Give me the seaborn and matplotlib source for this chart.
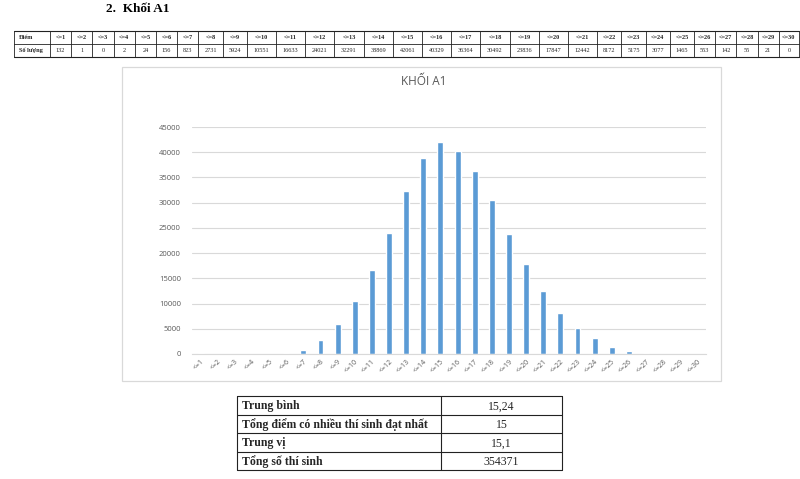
import matplotlib
matplotlib.use("Agg")
import matplotlib.pyplot as plt
import seaborn as sns
import pandas as pd

# ---- data ----
categories = [f"<={i}" for i in range(1, 31)]
counts = [132, 1, 0, 2, 24, 156, 823, 2731, 5924, 10551, 16633, 24021, 32291,
          38869, 42061, 40329, 36364, 30492, 23836, 17847, 12442, 8172, 5175,
          3077, 1465, 553, 142, 55, 21, 0]
y_ticks = [0, 5000, 10000, 15000, 20000, 25000, 30000, 35000, 40000, 45000]
heading = "2.  Khối A1"
chart_title = "KHỐI A1"
row_labels = ["Điểm", "Số lượng"]
summary_labels = ["Trung bình", "Tổng điểm có nhiều thí sinh đạt nhất", "Trung vị", "Tổng số thí sinh"]
summary_values = ["15,24", "15", "15,1", "354371"]

sns.set_theme(style="white")
plt.rcParams['font.family'] = ['DejaVu Sans']

W, H = 800, 479
fig = plt.figure(figsize=(W / 100, H / 100), dpi=100)
fig.patch.set_facecolor("white")

# overlay in pixel coordinates
ov = fig.add_axes([0, 0, 1, 1])
ov.set_xlim(0, W)
ov.set_ylim(H, 0)
ov.axis("off")

serif = "Liberation Serif"
lc = "#222222"

# heading
ov.text(106, 9, heading, fontsize=9.5, fontweight="bold", family=serif,
        ha="left", va="center", color="black")

# ---- top table ----
def col_width(v):
    d = len(str(v))
    if d >= 5:
        return 29.2
    if d == 4:
        return 24.2
    return 21.2

t_top, t_mid, t_bot = 31, 44, 57
xs = [14, 50]
for v in counts:
    xs.append(xs[-1] + col_width(v))
xs[-1] = min(xs[-1], 799)
ov.plot([xs[0], xs[-1]], [t_top, t_top], color=lc, lw=0.8)
ov.plot([xs[0], xs[-1]], [t_mid, t_mid], color=lc, lw=0.6)
ov.plot([xs[0], xs[-1]], [t_bot, t_bot], color=lc, lw=0.8)
for x in xs:
    ov.plot([x, x], [t_top, t_bot], color=lc, lw=0.6)
ov.text(19, (t_top + t_mid) / 2, row_labels[0], fontsize=4.5, fontweight="bold",
        family=serif, ha="left", va="center")
ov.text(19, (t_mid + t_bot) / 2, row_labels[1], fontsize=4.5, fontweight="bold",
        family=serif, ha="left", va="center")
for i, (c, v) in enumerate(zip(categories, counts)):
    cx = (xs[i + 1] + xs[i + 2]) / 2
    ov.text(cx, (t_top + t_mid) / 2, c, fontsize=4.5, fontweight="bold",
            family=serif, ha="center", va="center")
    ov.text(cx, (t_mid + t_bot) / 2, str(v), fontsize=4.5,
            family=serif, ha="center", va="center")

# ---- chart box ----
ov.add_patch(plt.Rectangle((122, 67), 721 - 122, 381 - 67, fill=False,
                           edgecolor="#D9D9D9", lw=0.9))
ov.text(424, 81, chart_title, fontsize=8.5, color="#595959", ha="center",
        va="center", family="Open Sans")

# ---- bar chart ----
ax = fig.add_axes([192 / W, 1 - 354 / H, (706 - 192) / W, (354 - 127) / H])
ax.set_facecolor("none")
df = pd.DataFrame({"cat": categories, "n": counts})
sns.barplot(data=df, x="cat", y="n", color="#5B9BD5", width=0.35,
            saturation=1, ax=ax)
ax.set_xlim(-0.5, 29.5)
ax.set_ylim(0, 45000)
ax.set_yticks(y_ticks)
ax.set_yticklabels([str(t) for t in y_ticks], fontsize=5.5, color="#595959",
                   family="Open Sans")
ax.yaxis.grid(True, color="#D9D9D9", lw=0.8)
ax.set_axisbelow(True)
for s in ["top", "right", "left"]:
    ax.spines[s].set_visible(False)
ax.spines["bottom"].set_color("#D9D9D9")
ax.spines["bottom"].set_linewidth(0.8)
ax.tick_params(axis="y", length=0, pad=8)
ax.tick_params(axis="x", length=0, pad=3)
ax.set_xticks(range(len(categories)))
ax.set_xticklabels(categories, rotation=45, ha="right", rotation_mode="anchor",
                   fontsize=5, color="#595959", family="Open Sans")
ax.set_xlabel("")
ax.set_ylabel("")

# ---- summary table ----
b_left, b_div, b_right = 237, 441, 562
b_rows = [396, 414.5, 433, 451.5, 470]
for y in b_rows:
    ov.plot([b_left, b_right], [y, y], color=lc, lw=0.8)
for x in [b_left, b_div, b_right]:
    ov.plot([x, x], [b_rows[0], b_rows[-1]], color=lc, lw=0.8)
for i, (lab, val) in enumerate(zip(summary_labels, summary_values)):
    cy = (b_rows[i] + b_rows[i + 1]) / 2 + 1
    ov.text(b_left + 5, cy, lab, fontsize=8.5, fontweight="bold", family=serif,
            ha="left", va="center")
    ov.text((b_div + b_right) / 2, cy, val, fontsize=8.5, family=serif,
            ha="center", va="center")

fig.savefig("out.png", dpi=100, facecolor="white")
